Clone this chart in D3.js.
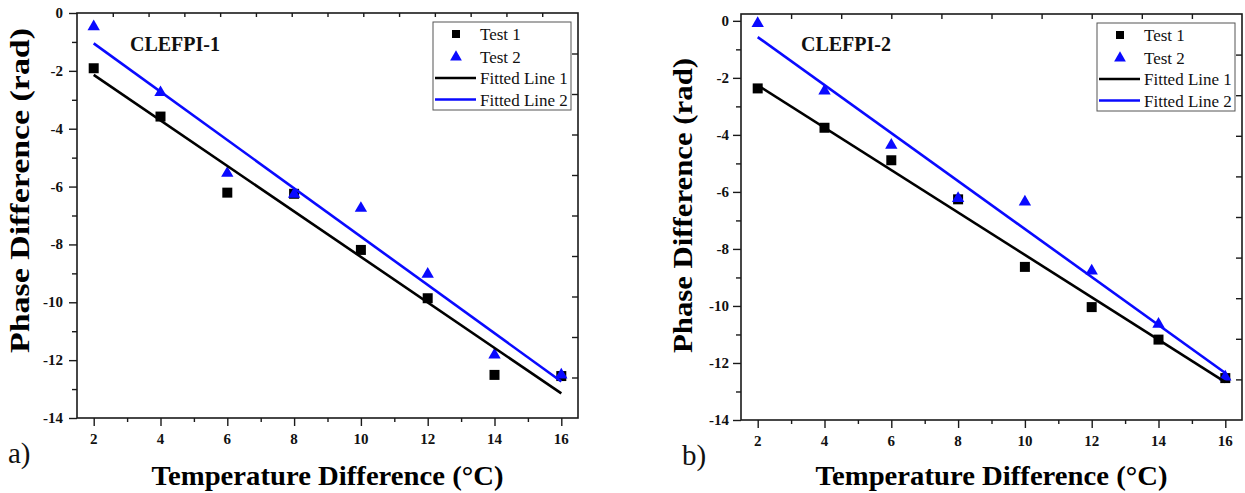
<!DOCTYPE html>
<html>
<head>
<meta charset="utf-8">
<script src="https://cdn.jsdelivr.net/npm/d3@7"></script>
<style>
  html, body { margin: 0; padding: 0; background: #fff; }
  svg { display: block; }
</style>
</head>
<body>
<svg id="chart" width="1245" height="493"></svg>
<script>
// ---------- data ----------
const xValues = [2, 4, 6, 8, 10, 12, 14, 16];
const test1A = [-1.91, -3.58, -6.21, -6.25, -8.19, -9.86, -12.51, -12.55];
const test2A = [-0.47, -2.75, -5.54, -6.26, -6.75, -9.03, -11.82, -12.51];
const test1B = [-2.37, -3.75, -4.89, -6.26, -8.63, -10.04, -11.18, -12.53];
const test2B = [-0.09, -2.46, -4.36, -6.23, -6.35, -8.77, -10.64, -12.49];
const fitX = [2, 16];
const fit1A = [-2.14, -13.15];
const fit2A = [-1.05, -12.74];
const fit1B = [-2.26, -12.67];
const fit2B = [-0.57, -12.35];
const xTicks = [2, 4, 6, 8, 10, 12, 14, 16];
const xMinorTicks = [3, 5, 7, 9, 11, 13, 15];
const yTicks = [0, -2, -4, -6, -8, -10, -12, -14];
const yMinorTicks = [-1, -3, -5, -7, -9, -11, -13];
const panelTitles = ["CLEFPI-1", "CLEFPI-2"];
const panelLetters = ["a)", "b)"];
const legendLabels = ["Test 1", "Test 2", "Fitted Line 1", "Fitted Line 2"];
const xTitle = "Temperature Difference (°C)";
const yTitle = "Phase Difference (rad)";

// ---------- layout ----------
const SERIF = "'Liberation Serif', 'Times New Roman', serif";
const BLUE = "#0a0aff";
const panels = [
  { left: 77, right: 578, top: 13, bottom: 418, yMax: 0, t1: test1A, t2: test2A, f1: fit1A, f2: fit2A,
    title: panelTitles[0], titleX: 130, letter: panelLetters[0], letterX: 8, letterY: 463,
    topDiv: 14, rightDiv: 10, yTitleX: 29, yTitleY: 190.5, yTitleLen: 325, legX: 433, legY: 22, yLabGap: 14 },
  { left: 741, right: 1242, top: 14, bottom: 420, yMax: 0.24, t1: test1B, t2: test2B, f1: fit1B, f2: fit2B,
    title: panelTitles[1], titleX: 801, letter: panelLetters[1], letterX: 682, letterY: 465,
    topDiv: 10, rightDiv: 10, yTitleX: 692, yTitleY: 205.5, yTitleLen: 295, legX: 1097, legY: 23, yLabGap: 12 }
];

const svg = d3.select("#chart");
svg.append("rect").attr("width", 1245).attr("height", 493).attr("fill", "#fff");

function styleAxis(sel) {
  sel.select(".domain").remove();
  sel.selectAll("line").attr("stroke", "#1a1a1a").attr("stroke-width", 1.4);
}

panels.forEach(p => {
  const x = d3.scaleLinear().domain([1.5, 16.5]).range([p.left, p.right]);
  const y = d3.scaleLinear().domain([-14, p.yMax]).range([p.bottom, p.top]);
  const g = svg.append("g");

  // bottom axis ticks
  g.append("g").attr("transform", `translate(0,${p.bottom})`)
    .call(d3.axisBottom(x).tickValues(xTicks).tickSize(8).tickFormat(""))
    .call(styleAxis);
  g.append("g").attr("transform", `translate(0,${p.bottom})`)
    .call(d3.axisBottom(x).tickValues(xMinorTicks).tickSize(4).tickFormat(""))
    .call(styleAxis);
  // left axis ticks
  g.append("g").attr("transform", `translate(${p.left},0)`)
    .call(d3.axisLeft(y).tickValues(yTicks).tickSize(8).tickFormat(""))
    .call(styleAxis);
  g.append("g").attr("transform", `translate(${p.left},0)`)
    .call(d3.axisLeft(y).tickValues(yMinorTicks).tickSize(5).tickFormat(""))
    .call(styleAxis);
  // top mirror ticks (inward)
  const topS = d3.scaleLinear().domain([0, p.topDiv]).range([p.left, p.right]);
  g.append("g").attr("transform", `translate(0,${p.top})`)
    .call(d3.axisTop(topS).tickValues(d3.range(1, p.topDiv)).tickSize(p.topDiv === 14 ? -4 : -5).tickFormat(""))
    .call(styleAxis);
  // right mirror ticks (inward)
  const rightS = d3.scaleLinear().domain([0, p.rightDiv]).range([p.bottom, p.top]);
  g.append("g").attr("transform", `translate(${p.right},0)`)
    .call(d3.axisRight(rightS).tickValues(d3.range(1, p.rightDiv)).tickSize(-6).tickFormat(""))
    .call(styleAxis);

  // tick labels (positioned through the scales)
  g.append("g").selectAll("text").data(xTicks).join("text")
    .attr("x", d => x(d)).attr("y", p.bottom + 26)
    .attr("text-anchor", "middle")
    .attr("font-family", SERIF).attr("font-weight", "bold").attr("font-size", 15)
    .attr("fill", "#111").text(d => String(d));
  g.append("g").selectAll("text").data(yTicks).join("text")
    .attr("x", p.left - p.yLabGap).attr("y", d => y(d) + 5)
    .attr("text-anchor", "end")
    .attr("font-family", SERIF).attr("font-weight", "bold").attr("font-size", 15)
    .attr("fill", "#111").text(d => String(d));

  // frame
  g.append("rect").attr("x", p.left).attr("y", p.top)
    .attr("width", p.right - p.left).attr("height", p.bottom - p.top)
    .attr("fill", "none").attr("stroke", "#1a1a1a").attr("stroke-width", 1.6);

  // points
  g.append("g").selectAll("path").data(xValues.map((v, i) => [v, p.t1[i]])).join("path")
    .attr("d", d3.symbol(d3.symbolSquare, 100))
    .attr("transform", d => `translate(${x(d[0])},${y(d[1])})`)
    .attr("fill", "#000");
  g.append("g").selectAll("path").data(xValues.map((v, i) => [v, p.t2[i]])).join("path")
    .attr("d", d3.symbol(d3.symbolTriangle, 66))
    .attr("transform", d => `translate(${x(d[0])},${y(d[1])})`)
    .attr("fill", BLUE);

  // fitted lines
  const line = d3.line().x(d => x(d[0])).y(d => y(d[1]));
  g.append("path").datum(fitX.map((v, i) => [v, p.f1[i]])).attr("d", line)
    .attr("stroke", "#000").attr("stroke-width", 2.6).attr("fill", "none");
  g.append("path").datum(fitX.map((v, i) => [v, p.f2[i]])).attr("d", line)
    .attr("stroke", BLUE).attr("stroke-width", 2.6).attr("fill", "none");

  // panel title
  g.append("text").attr("x", p.titleX).attr("y", 51).text(p.title)
    .attr("font-family", SERIF).attr("font-weight", "bold").attr("font-size", 20).attr("fill", "#111");

  // panel letter
  g.append("text").attr("x", p.letterX).attr("y", p.letterY).text(p.letter)
    .attr("font-family", SERIF).attr("font-size", 29).attr("fill", "#111");

  // axis titles
  g.append("text").attr("x", (p.left + p.right) / 2).attr("y", 485)
    .attr("text-anchor", "middle").attr("font-family", SERIF).attr("font-weight", "bold").attr("font-size", 28)
    .attr("textLength", 352).attr("lengthAdjust", "spacingAndGlyphs")
    .attr("fill", "#000").text(xTitle);
  g.append("text").attr("transform", `translate(${p.yTitleX},${p.yTitleY}) rotate(-90)`)
    .attr("text-anchor", "middle").attr("font-family", SERIF).attr("font-weight", "bold").attr("font-size", 28)
    .attr("textLength", p.yTitleLen).attr("lengthAdjust", "spacingAndGlyphs")
    .attr("fill", "#000").text(yTitle);

  // legend
  const leg = g.append("g").attr("transform", `translate(${p.legX},${p.legY})`);
  leg.append("rect").attr("width", 138).attr("height", 88)
    .attr("fill", "#fff").attr("stroke", "#555").attr("stroke-width", 1);
  const rowY = [12, 35, 56, 77.5];
  legendLabels.forEach((lab, i) => {
    const cy = rowY[i];
    if (i === 0) {
      leg.append("path").attr("d", d3.symbol(d3.symbolSquare, 64)).attr("transform", `translate(23,${cy})`).attr("fill", "#000");
    } else if (i === 1) {
      leg.append("path").attr("d", d3.symbol(d3.symbolTriangle, 60)).attr("transform", `translate(23,${cy})`).attr("fill", BLUE);
    } else {
      leg.append("line").attr("x1", 2).attr("x2", 43).attr("y1", cy).attr("y2", cy)
        .attr("stroke", i === 2 ? "#000" : BLUE).attr("stroke-width", 2.6);
    }
    leg.append("text").attr("x", 47).attr("y", cy + 6).text(lab)
      .attr("font-family", SERIF).attr("font-size", 17).attr("fill", "#111");
  });
});
</script>
</body>
</html>
